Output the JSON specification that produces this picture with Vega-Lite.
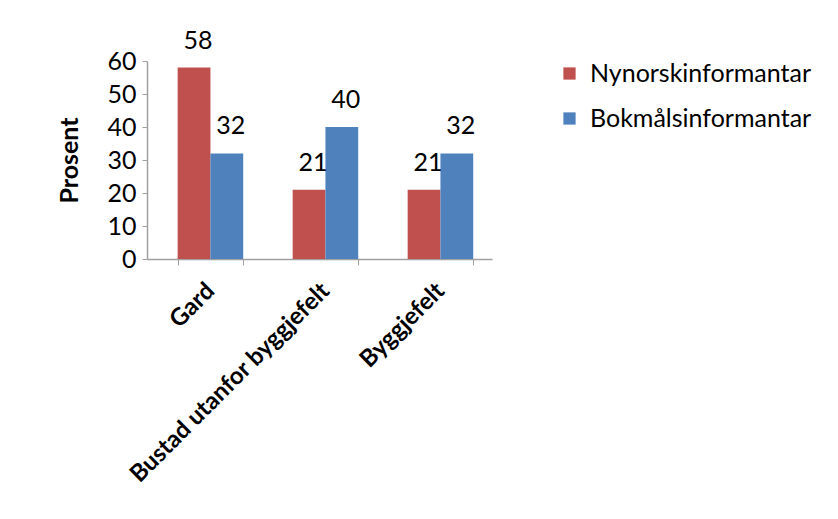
{
  "$schema": "https://vega.github.io/schema/vega-lite/v6.json",
  "width": 345,
  "height": 198,
  "autosize": "none",
  "padding": {"left": 147, "top": 61, "right": 346, "bottom": 260},
  "background": "white",
  "config": {"view": {"stroke": null}},
  "data": {
    "values": [
      {"kategori": "Gard", "gruppe": "Nynorskinformantar", "prosent": 58},
      {"kategori": "Gard", "gruppe": "Bokmålsinformantar", "prosent": 32},
      {"kategori": "Bustad utanfor byggjefelt", "gruppe": "Nynorskinformantar", "prosent": 21},
      {"kategori": "Bustad utanfor byggjefelt", "gruppe": "Bokmålsinformantar", "prosent": 40},
      {"kategori": "Byggjefelt", "gruppe": "Nynorskinformantar", "prosent": 21},
      {"kategori": "Byggjefelt", "gruppe": "Bokmålsinformantar", "prosent": 32}
    ]
  },
  "encoding": {
    "x": {
      "field": "kategori",
      "type": "nominal",
      "sort": ["Gard", "Bustad utanfor byggjefelt", "Byggjefelt"],
      "scale": {"paddingInner": 0.43, "paddingOuter": 0.215, "align": 0.62},
      "axis": {
        "title": null,
        "labelAngle": -45,
        "labelAlign": "right",
        "labelBaseline": "middle",
        "labelFont": "Lato",
        "labelFontSize": 24,
        "labelFontWeight": "bold",
        "labelColor": "black",
        "labelLimit": 0,
        "labelPadding": 22,
        "domainColor": "#a0a0a0",
        "domainWidth": 1.5,
        "tickColor": "#a0a0a0",
        "tickBand": "extent",
        "tickSize": 6,
        "labelOffset": 0
      }
    },
    "xOffset": {
      "field": "gruppe",
      "type": "nominal",
      "sort": ["Nynorskinformantar", "Bokmålsinformantar"]
    },
    "y": {
      "field": "prosent",
      "type": "quantitative",
      "scale": {"domain": [0, 60]},
      "axis": {
        "title": "Prosent",
        "titleFont": "Lato",
        "titleFontSize": 25,
        "titleFontWeight": "bold",
        "titleColor": "black",
        "titlePadding": 24,
        "values": [0, 10, 20, 30, 40, 50, 60],
        "labelFont": "Lato",
        "labelFontSize": 25,
        "labelColor": "black",
        "labelPadding": 6,
        "grid": false,
        "domainColor": "#a0a0a0",
        "domainWidth": 1.5,
        "tickColor": "#a0a0a0",
        "tickSize": 5
      }
    }
  },
  "layer": [
    {
      "mark": {"type": "bar"},
      "encoding": {
        "color": {
          "field": "gruppe",
          "type": "nominal",
          "sort": ["Nynorskinformantar", "Bokmålsinformantar"],
          "scale": {
            "domain": ["Nynorskinformantar", "Bokmålsinformantar"],
            "range": ["#C0504D", "#4F81BD"]
          },
          "legend": {
            "title": null,
            "orient": "none",
            "legendX": 410,
            "legendY": 0,
            "symbolType": "square",
            "symbolSize": 150,
            "symbolStrokeWidth": 0,
            "labelFont": "Lato",
            "labelFontSize": 25,
            "labelColor": "black",
            "labelLimit": 0,
            "rowPadding": 19,
            "labelOffset": 8
          }
        }
      }
    },
    {
      "mark": {"type": "text", "dy": -27, "dx": 4, "font": "Lato", "fontSize": 25, "color": "black"},
      "encoding": {
        "text": {"field": "prosent", "type": "quantitative"}
      }
    }
  ]
}
